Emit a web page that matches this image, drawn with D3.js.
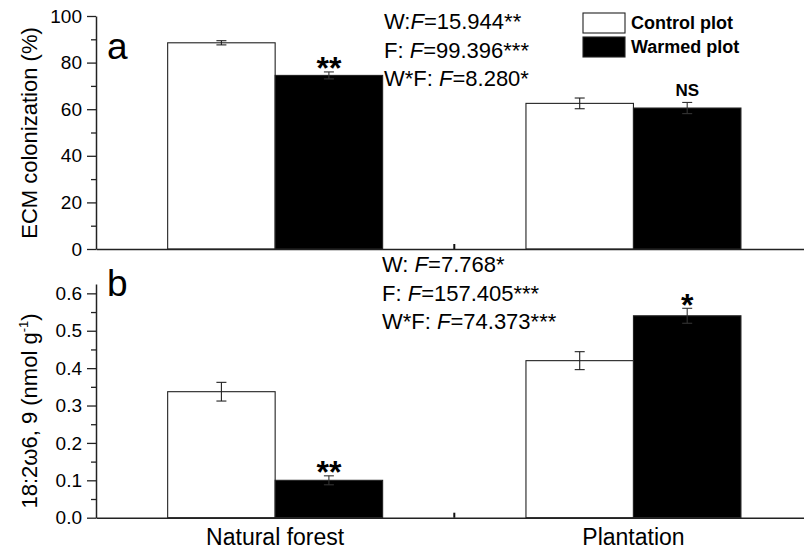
<!DOCTYPE html>
<html><head><meta charset="utf-8">
<script src="https://cdn.jsdelivr.net/npm/d3@7"></script>
<style>
html,body{margin:0;padding:0;background:#fff;}
text{font-family:"Liberation Sans",Arial,Helvetica,sans-serif;fill:#000;}
</style></head>
<body><svg id="chart" width="804" height="549"></svg>
<script>
// ---- data ----
const categories = ["Natural forest", "Plantation"];
const treatments = ["Control plot", "Warmed plot"];
const ecmControl = [88.5, 62.5];
const ecmControlErr = [0.9, 2.3];
const ecmWarmed = [74.5, 60.5];
const ecmWarmedErr = [1.5, 2.4];
const ecmSig = ["**", "NS"];
const pufaControl = [0.337, 0.42];
const pufaControlErr = [0.025, 0.024];
const pufaWarmed = [0.10, 0.54];
const pufaWarmedErr = [0.012, 0.02];
const pufaSig = ["**", "*"];
const ecmTicks = [0, 20, 40, 60, 80, 100];
const ecmMinor = [10, 30, 50, 70, 90];
const pufaTicks = [0, 0.1, 0.2, 0.3, 0.4, 0.5, 0.6];
const pufaMinor = [0.05, 0.15, 0.25, 0.35, 0.45, 0.55];
const ecmStats = [["W:", "F", "=15.944**"], ["F: ", "F", "=99.396***"], ["W*F: ", "F", "=8.280*"]];
const pufaStats = [["W: ", "F", "=7.768*"], ["F: ", "F", "=157.405***"], ["W*F: ", "F", "=74.373***"]];

const svg = d3.select("#chart");
const x = d3.scaleBand().domain(categories).range([96, 812.6]).paddingInner(0).paddingOuter(0);
const bw = x.bandwidth();
const sub = d3.scaleBand().domain(treatments).range([0.2 * bw, 0.8 * bw]).padding(0);
const fills = {"Control plot": "#fff", "Warmed plot": "#000"};

function panel(cfg) {
  const y = d3.scaleLinear().domain(cfg.domain).range(cfg.range);
  const g = svg.append("g");
  const rows = categories.map((c, i) => [
    {cat: c, t: treatments[0], v: cfg.control[i], e: cfg.controlErr[i]},
    {cat: c, t: treatments[1], v: cfg.warmed[i], e: cfg.warmedErr[i]}
  ]).flat();
  g.selectAll("rect.bar").data(rows).join("rect")
    .attr("x", d => x(d.cat) + sub(d.t))
    .attr("width", sub.bandwidth())
    .attr("y", d => y(d.v))
    .attr("height", d => y(0) - y(d.v))
    .attr("fill", d => fills[d.t])
    .attr("stroke", "#222").attr("stroke-width", 1.1);
  const eb = g.selectAll("g.eb").data(rows).join("g")
    .attr("stroke", d => d.t === treatments[1] ? "#333" : "#222").attr("stroke-width", 1.1);
  const cx = d => x(d.cat) + sub(d.t) + sub.bandwidth() / 2;
  eb.append("line").attr("x1", cx).attr("x2", cx).attr("y1", d => y(d.v + d.e)).attr("y2", d => y(d.v - d.e));
  eb.append("line").attr("x1", d => cx(d) - 5).attr("x2", d => cx(d) + 5).attr("y1", d => y(d.v + d.e)).attr("y2", d => y(d.v + d.e));
  eb.append("line").attr("x1", d => cx(d) - 5).attr("x2", d => cx(d) + 5).attr("y1", d => y(d.v - d.e)).attr("y2", d => y(d.v - d.e));
  g.selectAll("text.sig").data(categories).join("text")
    .attr("x", c => x(c) + sub(treatments[1]) + sub.bandwidth() / 2)
    .attr("y", (c, i) => y(cfg.warmed[i] + cfg.warmedErr[i]) + cfg.sigOffset[i])
    .attr("text-anchor", "middle")
    .attr("font-weight", "bold")
    .attr("font-size", (c, i) => cfg.sig[i] === "NS" ? 17 : 32)
    .text((c, i) => cfg.sig[i]);
  const ax = g.append("g").attr("transform", "translate(96,0)")
    .call(d3.axisLeft(y).tickValues(cfg.ticks).tickFormat(cfg.fmt).tickSize(9).tickSizeOuter(0).tickPadding(5));
  g.append("g").attr("transform", "translate(96,0)")
    .call(d3.axisLeft(y).tickValues(cfg.minor).tickFormat("").tickSize(5).tickSizeOuter(0))
    .select(".domain").remove();
  ax.select(".domain").attr("stroke", "#222").attr("stroke-width", 1.5);
  ax.selectAll("text").attr("font-size", 19).attr("font-family", "Liberation Sans, Arial, sans-serif").attr("fill", "#000");
  g.selectAll(".tick line").attr("stroke", "#222").attr("stroke-width", 1.3);
  const xa = g.append("g").attr("transform", `translate(0,${y(0)})`)
    .call(d3.axisBottom(x).tickSize(0).tickSizeOuter(0).tickPadding(11).tickFormat(cfg.showX ? (d => d) : ""));
  xa.select(".domain").attr("stroke", "#222").attr("stroke-width", 1.6);
  xa.selectAll("text").attr("font-size", 23).attr("font-family", "Liberation Sans, Arial, sans-serif").attr("fill", "#000");
  g.append("line").attr("x1", x(categories[1])).attr("x2", x(categories[1]))
    .attr("y1", y(0)).attr("y2", y(0) - 5).attr("stroke", "#111").attr("stroke-width", 2);
  g.append("text").attr("x", 107).attr("y", cfg.letterY).attr("font-size", 37).text(cfg.letter);
  const tt = g.append("text").attr("transform", `translate(37,${cfg.titleY}) rotate(-90)`)
    .attr("text-anchor", "middle").attr("font-size", 22);
  cfg.title(tt);
  const st = g.append("g");
  cfg.stats.forEach((s, i) => {
    const t = st.append("text").attr("x", cfg.statX).attr("y", cfg.statY + i * 28.5).attr("font-size", 22);
    t.append("tspan").text(s[0]);
    t.append("tspan").attr("font-style", "italic").text(s[1]);
    t.append("tspan").text(s[2]);
  });
  return y;
}

panel({
  domain: [0, 100], range: [249, 16], control: ecmControl, controlErr: ecmControlErr,
  warmed: ecmWarmed, warmedErr: ecmWarmedErr, sig: ecmSig, sigOffset: [7, -6],
  ticks: ecmTicks, minor: ecmMinor, fmt: d3.format("d"), showX: false,
  letter: "a", letterY: 59, titleY: 133,
  title: t => t.text("ECM colonization (%)"),
  stats: ecmStats, statX: 384, statY: 29
});

panel({
  domain: [0, 0.625], range: [517.7, 284], control: pufaControl, controlErr: pufaControlErr,
  warmed: pufaWarmed, warmedErr: pufaWarmedErr, sig: pufaSig, sigOffset: [7, 8],
  ticks: pufaTicks, minor: pufaMinor, fmt: d3.format(".1f"), showX: true,
  letter: "b", letterY: 296, titleY: 411,
  title: t => { t.append("tspan").text("18:2ω6, 9 (nmol g");
                t.append("tspan").attr("font-size", 13).attr("dy", -9).text("-1");
                t.append("tspan").attr("dy", 9).text(")"); },
  stats: pufaStats, statX: 382, statY: 272
});

const leg = svg.append("g");
treatments.forEach((t, i) => {
  leg.append("rect").attr("x", 583).attr("y", 13 + i * 24).attr("width", 42).attr("height", 20)
    .attr("fill", fills[t]).attr("stroke", "#222").attr("stroke-width", 1.1);
  leg.append("text").attr("x", 631).attr("y", 29 + i * 23.5).attr("font-size", 18).attr("font-weight", "bold").text(t);
});
</script></body></html>
